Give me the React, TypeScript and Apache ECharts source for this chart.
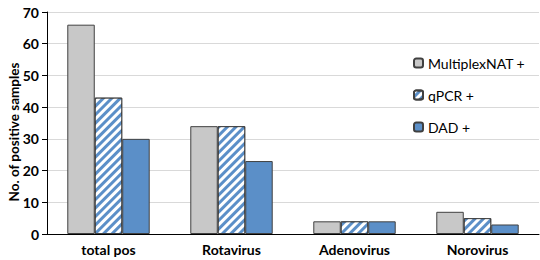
import React, { useEffect, useRef } from "react";
import * as echarts from "echarts";

const categories = ["total pos", "Rotavirus", "Adenovirus", "Norovirus"];
const multiplexNAT = [66, 34, 4, 7];
const qPCR = [43, 34, 4, 5];
const dad = [30, 23, 4, 3];
const seriesNames = ["MultiplexNAT +", "qPCR +", "DAD +"];

const FONT = "Lato, 'Open Sans', sans-serif";

export default function App() {
  const ref = useRef<HTMLDivElement>(null);
  useEffect(() => {
    if (!ref.current) return;
    const chart = echarts.init(ref.current, undefined, { renderer: "svg" });
    const blue = "#5b8fc8";
    chart.setOption({
      animation: false,
      grid: { left: 47, right: 1, top: 12, bottom: 26, outerBoundsMode: "none", containLabel: false },
      legend: {
        orient: "vertical",
        left: 408,
        top: 51,
        itemGap: 18,
        itemWidth: 9,
        itemHeight: 9,
        textStyle: { fontFamily: FONT, fontSize: 14, lineHeight: 14, color: "#000" },
        data: seriesNames,
      },
      xAxis: {
        type: "category",
        data: categories,
        axisLine: { lineStyle: { color: "#000", width: 1 } },
        axisTick: { show: false },
        axisLabel: { fontFamily: FONT, fontWeight: "bold", fontSize: 14, color: "#000", margin: 8 },
      },
      yAxis: {
        type: "value",
        min: 0,
        max: 70,
        interval: 10,
        name: "No. of positive samples",
        nameLocation: "middle",
        nameGap: 26,
        nameMoveOverlap: false,
        nameTextStyle: {
          fontFamily: FONT,
          fontWeight: "bold",
          fontSize: 13.5,
          color: "#000",
          padding: [0, 18, 0, 0],
        },
        axisLine: { show: true, lineStyle: { color: "#000", width: 1 } },
        axisTick: { show: true, length: 5, lineStyle: { color: "#000" } },
        axisLabel: { fontFamily: FONT, fontWeight: "bold", fontSize: 14, color: "#000", margin: 8 },
        splitLine: { lineStyle: { color: "#d9d9d9" } },
      },
      series: [
        {
          name: seriesNames[0],
          type: "bar",
          data: multiplexNAT,
          barGap: "0%",
          barCategoryGap: "33%",
          itemStyle: { color: "#c8c8c8", borderColor: "#404040", borderWidth: 1 },
        },
        {
          name: seriesNames[1],
          type: "bar",
          data: qPCR,
          itemStyle: {
            color: blue,
            borderColor: "#404040",
            borderWidth: 1,
            decal: {
              symbol: "rect",
              symbolSize: 1,
              dashArrayX: [1, 0],
              dashArrayY: [3, 3],
              rotation: -Math.PI / 4,
              color: "#ffffff",
            },
          },
        },
        {
          name: seriesNames[2],
          type: "bar",
          data: dad,
          itemStyle: { color: blue, borderColor: "#404040", borderWidth: 1 },
        },
      ],
    });
    return () => chart.dispose();
  }, []);
  return <div ref={ref} style={{ width: 540, height: 260, position: "absolute", left: 0, top: 0, background: "#fff" }} />;
}
